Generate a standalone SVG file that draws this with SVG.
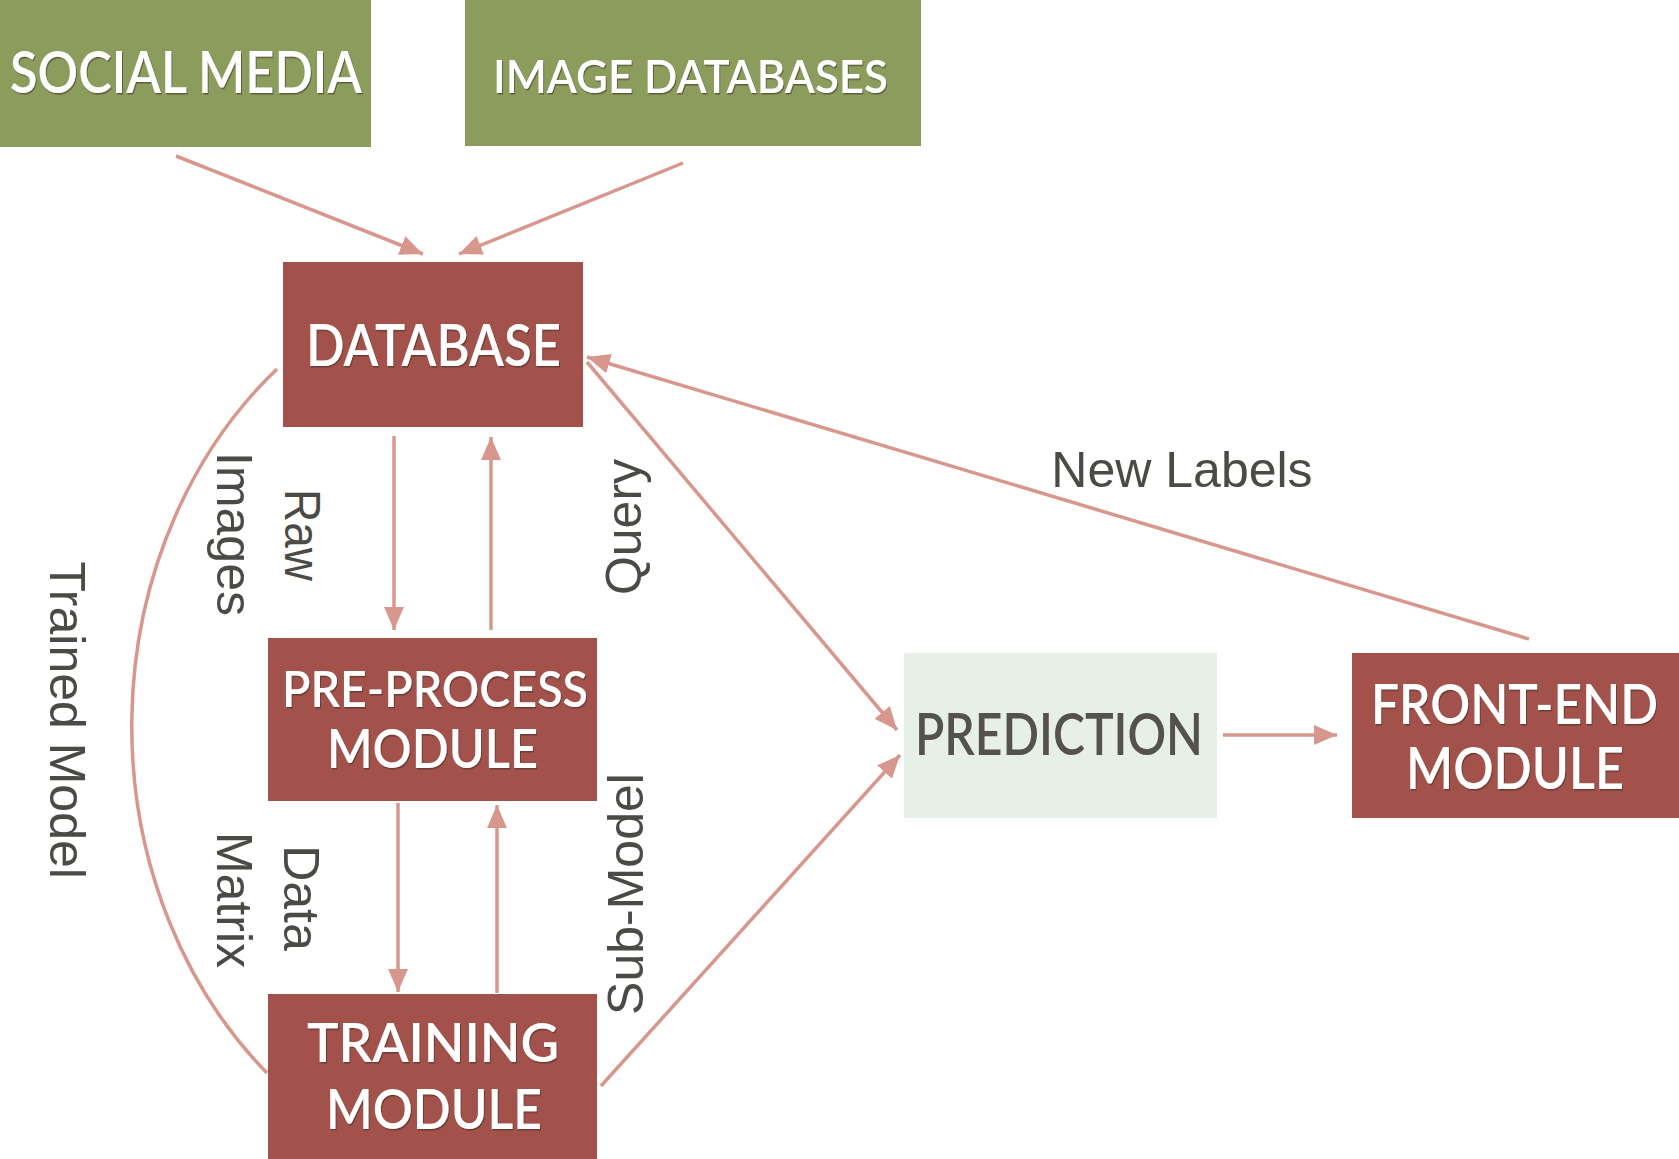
<svg xmlns="http://www.w3.org/2000/svg" width="1679" height="1159" viewBox="0 0 1679 1159">
<defs>
<style>
.green{fill:#8c9c5d}
.red{fill:#a2524b}
.pred{fill:#e6f0e6}
.bt{font-family:Lato,"Liberation Sans",Arial,sans-serif;font-weight:600;fill:#ffffff;text-anchor:start}
.pt{font-family:Lato,"Liberation Sans",Arial,sans-serif;font-weight:600;fill:#55524b}
.lbl{font-family:"Liberation Sans",Arial,sans-serif;font-size:50px;fill:#4b4a45;text-anchor:middle}
.conn{stroke:#d8978c;stroke-width:3.5;fill:none}
</style>
<marker id="ah" markerUnits="userSpaceOnUse" markerWidth="26" markerHeight="22" refX="23" refY="10" orient="auto">
<path d="M0,0 L23,10 L0,20 Z" fill="#d8978c"/>
</marker>
<filter id="sh" x="-5%" y="-20%" width="110%" height="140%">
<feDropShadow dx="1" dy="1.5" stdDeviation="0.6" flood-color="#3a2a20" flood-opacity="0.55"/>
</filter>
</defs>
<rect width="1679" height="1159" fill="#ffffff"/>

<g id="connectors">
<line class="conn" x1="176" y1="156" x2="423" y2="254" marker-end="url(#ah)"/>
<line class="conn" x1="683" y1="163" x2="459" y2="254" marker-end="url(#ah)"/>
<line class="conn" x1="394" y1="436" x2="394" y2="630" marker-end="url(#ah)"/>
<line class="conn" x1="491" y1="630" x2="491" y2="437" marker-end="url(#ah)"/>
<line class="conn" x1="398" y1="803" x2="398" y2="992" marker-end="url(#ah)"/>
<line class="conn" x1="497" y1="993" x2="497" y2="805" marker-end="url(#ah)"/>
<line class="conn" x1="587" y1="362" x2="897" y2="730" marker-end="url(#ah)"/>
<line class="conn" x1="1529" y1="639" x2="587" y2="357" marker-end="url(#ah)"/>
<line class="conn" x1="601" y1="1086" x2="900" y2="755" marker-end="url(#ah)"/>
<line class="conn" x1="1223" y1="735" x2="1337" y2="735" marker-end="url(#ah)"/>
<path class="conn" d="M277,369 A400,463 0 0 0 267,1073"/>
<text class="lbl" transform="translate(50,720) rotate(90)">Trained Model</text>
<text class="lbl" transform="translate(217,534) rotate(90)">Images</text>
<text class="lbl" transform="translate(285,535) rotate(90)" textLength="92" lengthAdjust="spacingAndGlyphs">Raw</text>
<text class="lbl" transform="translate(217,900) rotate(90)">Matrix</text>
<text class="lbl" transform="translate(284,898) rotate(90)">Data</text>
<text class="lbl" transform="translate(641,527) rotate(-90)">Query</text>
<text class="lbl" transform="translate(643,894) rotate(-90)">Sub-Model</text>
<text class="lbl" x="1182" y="487">New Labels</text>
</g>

<g id="social-media">
<rect class="green" x="0" y="0" width="371" height="147"/>
<text class="bt" x="10" y="93" font-size="57" textLength="352" lengthAdjust="spacingAndGlyphs" filter="url(#sh)">SOCIAL MEDIA</text>
</g>

<g id="image-databases">
<rect class="green" x="465" y="0" width="456" height="146"/>
<text class="bt" x="493" y="93" font-size="47" textLength="395" lengthAdjust="spacingAndGlyphs" filter="url(#sh)">IMAGE DATABASES</text>
</g>

<g id="database">
<rect class="red" x="283" y="262" width="300" height="165"/>
<text class="bt" x="306" y="366" font-size="57" textLength="255" lengthAdjust="spacingAndGlyphs" filter="url(#sh)">DATABASE</text>
</g>

<g id="pre-process-module">
<rect class="red" x="268" y="638" width="329" height="163"/>
<text class="bt" x="282" y="707" font-size="49" textLength="306" lengthAdjust="spacingAndGlyphs" filter="url(#sh)">PRE-PROCESS</text>
<text class="bt" x="327" y="768" font-size="53" textLength="211" lengthAdjust="spacingAndGlyphs" filter="url(#sh)">MODULE</text>
</g>

<g id="training-module">
<rect class="red" x="268" y="994" width="329" height="165"/>
<text class="bt" x="307" y="1062" font-size="54" textLength="252" lengthAdjust="spacingAndGlyphs" filter="url(#sh)">TRAINING</text>
<text class="bt" x="326" y="1129" font-size="55" textLength="216" lengthAdjust="spacingAndGlyphs" filter="url(#sh)">MODULE</text>
</g>

<g id="prediction">
<rect class="pred" x="904" y="653" width="313" height="165"/>
<text class="pt" x="915" y="755" font-size="58" textLength="288" lengthAdjust="spacingAndGlyphs">PREDICTION</text>
</g>

<g id="front-end-module">
<rect class="red" x="1352" y="653" width="327" height="165"/>
<text class="bt" x="1371" y="724" font-size="56" textLength="287" lengthAdjust="spacingAndGlyphs" filter="url(#sh)">FRONT-END</text>
<text class="bt" x="1406" y="789" font-size="57" textLength="218" lengthAdjust="spacingAndGlyphs" filter="url(#sh)">MODULE</text>
</g>
</svg>
